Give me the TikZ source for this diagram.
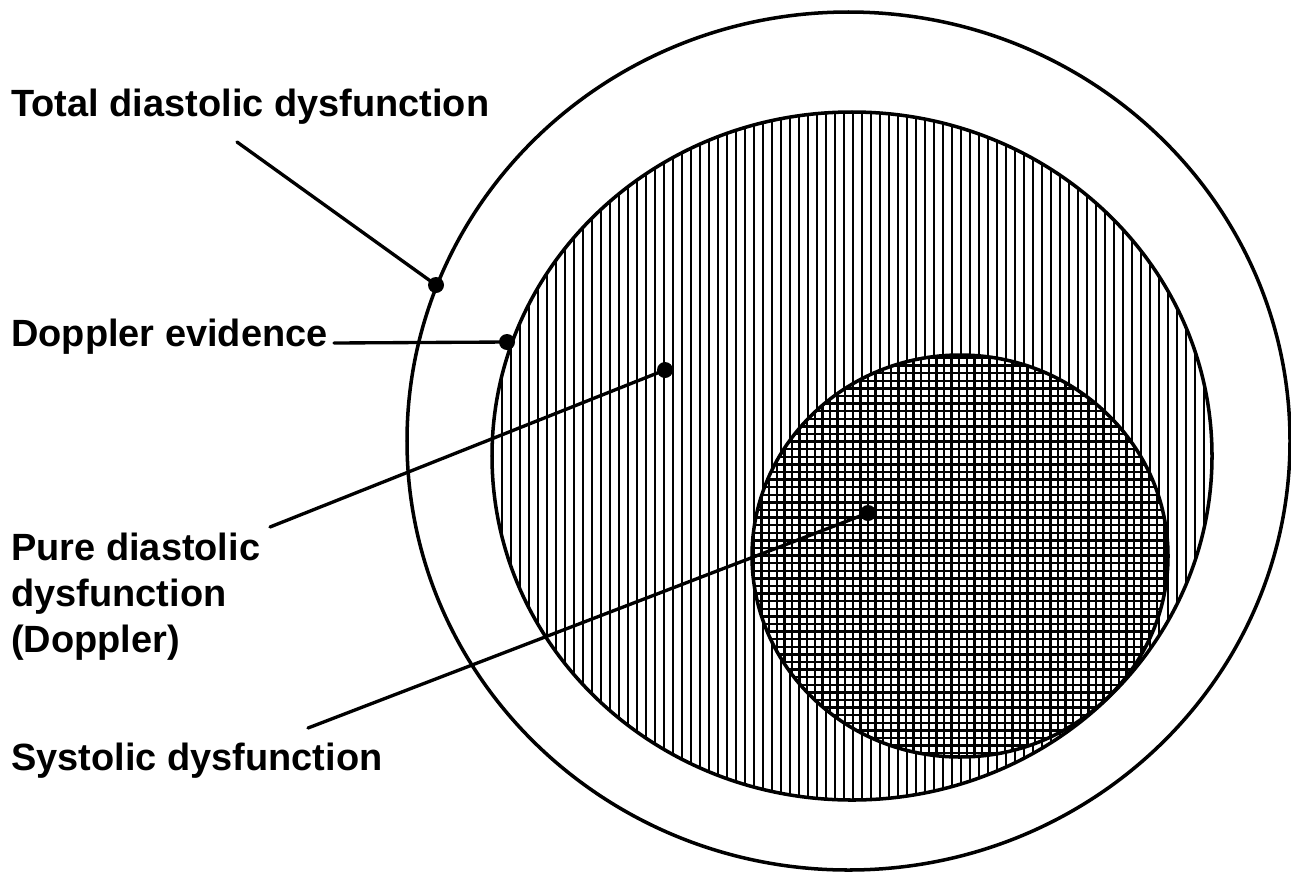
\documentclass[tikz,border=0pt]{standalone}
\usepackage{fontspec}
\setmainfont{Liberation Sans}
\usetikzlibrary{positioning}
\tikzset{
  ringline/.style={
    draw=black,
    line width=2pt
  },
  hatchline/.style={
    draw=black,
    line width=1.3pt
  },
  leaderline/.style={
    draw=black,
    line width=1.9pt,
    line cap=round
  },
  leaderdot/.style={
    circle,
    fill=black,
    inner sep=0pt,
    minimum size=0.32cm
  },
  labeltext/.style={
    anchor=base west,
    inner sep=0pt,
    align=left,
    font=\bfseries\fontsize{21.6}{26.1}\selectfont
  }
}

\begin{document}
\begin{tikzpicture}[x=0.02cm, y=-0.02cm]
    \useasboundingbox (0,0) rectangle (1291,873);

    % vertical hatching of the Doppler region
    \begin{scope}
        \clip (852,456) ellipse [x radius=360, y radius=344];
        \foreach \x in {493,502,...,1215}
            \draw[hatchline] (\x,100) -- (\x,810);
    \end{scope}

    % cross hatching of the systolic region
    \begin{scope}
        \clip (960,556) ellipse [x radius=208, y radius=201];
        \fill[white] (740,340) rectangle (1180,770);
        \foreach \x in {754,761.6,...,1170}
            \draw[hatchline] (\x,350) -- (\x,762);
        \foreach \y in {358,365.6,...,760}
            \draw[hatchline] (748,\y) -- (1172,\y);
    \end{scope}

    % outlines
    \draw[ringline] (848.5,441) ellipse [x radius=441.5, y radius=429];
    \draw[ringline] (852,456) ellipse [x radius=360, y radius=344];
    \draw[ringline] (960,556) ellipse [x radius=208, y radius=201];

    % labels (base of a multi-line label is its last line)
    \node[labeltext] (totallabel) at (11,116) {Total diastolic dysfunction};
    \node[labeltext] (dopplerlabel) at (11,346) {Doppler evidence};
    \node[labeltext] (purelabel) at (11,652) {Pure diastolic\\dysfunction\\(Doppler)};
    \node[labeltext] (systoliclabel) at (11,770) {Systolic dysfunction};

    % leader dots and line ends
    \node[leaderdot] (totaldot) at (436,285) {};
    \node[leaderdot] (dopplerdot) at (507,342) {};
    \node[leaderdot] (puredot) at (665,370) {};
    \node[leaderdot] (systolicdot) at (868,513) {};
    \coordinate (totaltail) at (237,142);
    \coordinate (dopplertail) at (334,343);
    \coordinate (puretail) at (270,527);
    \coordinate (systolictail) at (308,728);

    \draw[leaderline] (totaltail) -- (totaldot.center);
    \draw[leaderline] (dopplertail) -- (dopplerdot.center);
    \draw[leaderline] (puretail) -- (puredot.center);
    \draw[leaderline] (systolictail) -- (systolicdot.center);
\end{tikzpicture}
\end{document}
